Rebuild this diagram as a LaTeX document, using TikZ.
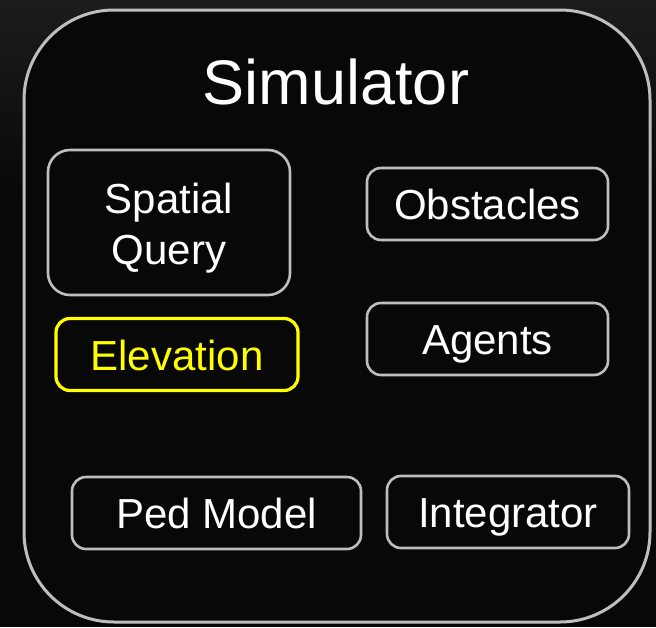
\documentclass[tikz,border=0pt]{standalone}
\usepackage{fontspec}
\setmainfont{Liberation Sans}
\usepackage{xcolor}
\usepackage{tikz}
\usetikzlibrary{positioning}

\definecolor{bgdark}{RGB}{8,8,8}
\definecolor{bgtop}{RGB}{28,28,28}
\definecolor{rimgray}{RGB}{190,190,190}
\definecolor{elevyellow}{RGB}{255,255,0}

\begin{document}
\begin{tikzpicture}[
      x=1pt, y=-1pt,
      simbox/.style={
         rectangle,
         draw=rimgray,
         line width=3pt,
         fill=bgdark,
         rounded corners=90pt,
         minimum width=626pt,
         minimum height=612pt},
      partbox/.style={
         rectangle,
         draw=rimgray,
         line width=2.6pt,
         fill=bgdark,
         rounded corners=14pt,
         text=white,
         align=center,
         inner sep=0pt,
         text height=31pt,
         text depth=0pt,
         font=\fontsize{42}{50}\selectfont,
         minimum height=72pt},
      hilite/.style={draw=elevyellow, text=elevyellow, line width=3.2pt}
      ]
% background
\fill[bgdark] (0,0) rectangle (656,627);
\shade[top color=bgtop, bottom color=bgdark] (0,0) rectangle (656,200);
\useasboundingbox (0,0) rectangle (656,627);

\node[simbox] (sim) at (337,316) {};
\node[text=white, font=\fontsize{63}{70}\selectfont] (title) at (336,82) {Simulator};

\node[partbox, minimum width=242pt, minimum height=145pt, rounded corners=22pt,
      text height=, text depth=,
      font=\fontsize{42}{52}\selectfont] (query) at (169,222.5) {};
\node[text=white, font=\fontsize{42}{50}\selectfont, text height=31pt, text depth=0pt,
      inner sep=0pt] (spatial) at (169,198) {Spatial};
\node[text=white, font=\fontsize{42}{50}\selectfont, text height=31pt, text depth=0pt,
      inner sep=0pt] (qry) at (169,249) {Query};
\node[partbox, minimum width=241pt] (obst)  at (487.5,204) {Obstacles};
\node[partbox, hilite, minimum width=242pt] (elev) at (177,354.5) {Elevation};
\node[partbox, minimum width=241pt] (agents) at (487.5,339) {Agents};
\node[partbox, minimum width=289pt] (ped)  at (216.5,513) {Ped Model};
\node[partbox, minimum width=242pt] (integ) at (508,512) {Integrator};

\end{tikzpicture}
\end{document}
